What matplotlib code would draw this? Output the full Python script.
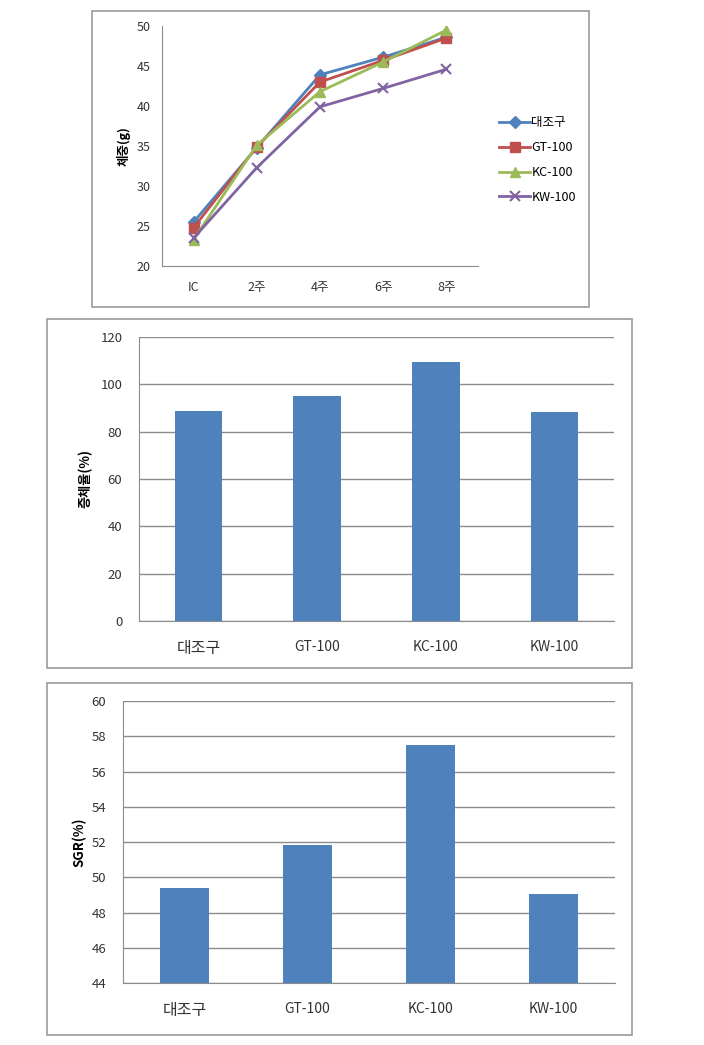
import matplotlib
matplotlib.use('Agg')
import matplotlib.pyplot as plt
from matplotlib.patches import Rectangle

plt.rcParams['font.family'] = ['Noto Sans CJK KR', 'DejaVu Sans']

# weight over time (g)
weeks = ['IC', '2주', '4주', '6주', '8주']
groups = ['대조구', 'GT-100', 'KC-100', 'KW-100']
w_control = [25.5, 34.8, 43.9, 46.1, 48.6]
w_gt = [24.8, 34.9, 43.0, 45.7, 48.5]
w_kc = [23.3, 35.1, 41.8, 45.5, 49.5]
w_kw = [23.5, 32.3, 39.9, 42.2, 44.6]

# weight gain rate (%)
gain = [88.9, 95.0, 109.4, 88.4]

# SGR (%)
sgr = [49.4, 51.85, 57.5, 49.05]

W, H = 704, 1045
fig = plt.figure(figsize=(W / 100, H / 100), dpi=100)
fig.patch.set_facecolor('white')

def px_axes(left, top, right, bottom):
    return fig.add_axes([left / W, 1 - bottom / H, (right - left) / W, (bottom - top) / H])

def frame(left, top, right, bottom):
    fig.patches.append(Rectangle((left / W, 1 - bottom / H), (right - left) / W, (bottom - top) / H,
                                 transform=fig.transFigure, fill=False, edgecolor='#9a9a9a', lw=1.2))

colors = ['#4F81BD', '#C0504D', '#9BBB59', '#8064A2']
grid_c = '#8c8c8c'

# ---- panel 1: line chart ----
frame(92, 11, 589, 307)
ax1 = px_axes(162, 26, 478, 266)
x = range(len(weeks))
ax1.plot(x, w_control, marker='D', color=colors[0], lw=2, ms=6, label=groups[0])
ax1.plot(x, w_gt, marker='s', color=colors[1], lw=2, ms=7, label=groups[1])
ax1.plot(x, w_kc, marker='^', color=colors[2], lw=2, ms=7, label=groups[2])
ax1.plot(x, w_kw, marker='x', color=colors[3], lw=2, ms=7, mew=1.5, label=groups[3])
ax1.set_xlim(-0.5, len(weeks) - 0.5)
ax1.set_ylim(20, 50)
ax1.set_yticks(range(20, 51, 5))
ax1.set_xticks(list(x))
ax1.set_xticklabels(weeks)
for s in ['top', 'right']:
    ax1.spines[s].set_visible(False)
for s in ['left', 'bottom']:
    ax1.spines[s].set_color(grid_c)
ax1.tick_params(axis='both', length=0, labelsize=9, colors='#333333')
ax1.tick_params(axis='x', pad=11)
ax1.tick_params(axis='y', pad=8)
ax1.set_ylabel('체중(g)', fontsize=9, fontweight='bold')
ax1.yaxis.set_label_coords(-0.1, 0.5)
ax1.legend(loc='center left', bbox_to_anchor=(499 / W, 1 - 160 / H), bbox_transform=fig.transFigure,
           frameon=False, fontsize=9, handlelength=2.5, handletextpad=0.1, labelspacing=0.95,
           borderpad=0, borderaxespad=0)

# ---- bar chart helper ----
def bar_panel(box, axbox, values, ylim, step, ylabel, ylabel_x):
    frame(*box)
    ax = px_axes(*axbox)
    ax.bar(range(len(groups)), values, width=0.4, color=colors[0], zorder=3)
    ax.set_xlim(-0.5, len(groups) - 0.5)
    ax.set_ylim(*ylim)
    ax.set_yticks(range(ylim[0], ylim[1] + 1, step))
    ax.set_xticks(range(len(groups)))
    ax.set_xticklabels(groups)
    ax.yaxis.grid(True, color=grid_c, lw=1)
    ax.set_axisbelow(True)
    for s in ['top', 'right']:
        ax.spines[s].set_visible(False)
    for s in ['left', 'bottom']:
        ax.spines[s].set_color(grid_c)
    ax.tick_params(axis='both', length=0, colors='#333333')
    ax.tick_params(axis='y', labelsize=9.5, pad=12)
    ax.tick_params(axis='x', labelsize=10, pad=14)
    # the Korean label looks a bit bigger in the original
    ax.get_xticklabels()[0].set_fontsize(11.5)
    ax.set_ylabel(ylabel, fontsize=9.5, fontweight='bold')
    ax.yaxis.set_label_coords(ylabel_x, 0.5)
    return ax

# ---- panel 2: gain ----
bar_panel((47, 319, 632, 668), (139, 337, 614, 621), gain, (0, 120), 20, '증체율(%)', -0.097)

# ---- panel 3: SGR ----
bar_panel((47, 683, 632, 1035), (123, 701, 615, 983), sgr, (44, 60), 2, 'SGR(%)', -0.075)

fig.savefig('out.png', dpi=100)
